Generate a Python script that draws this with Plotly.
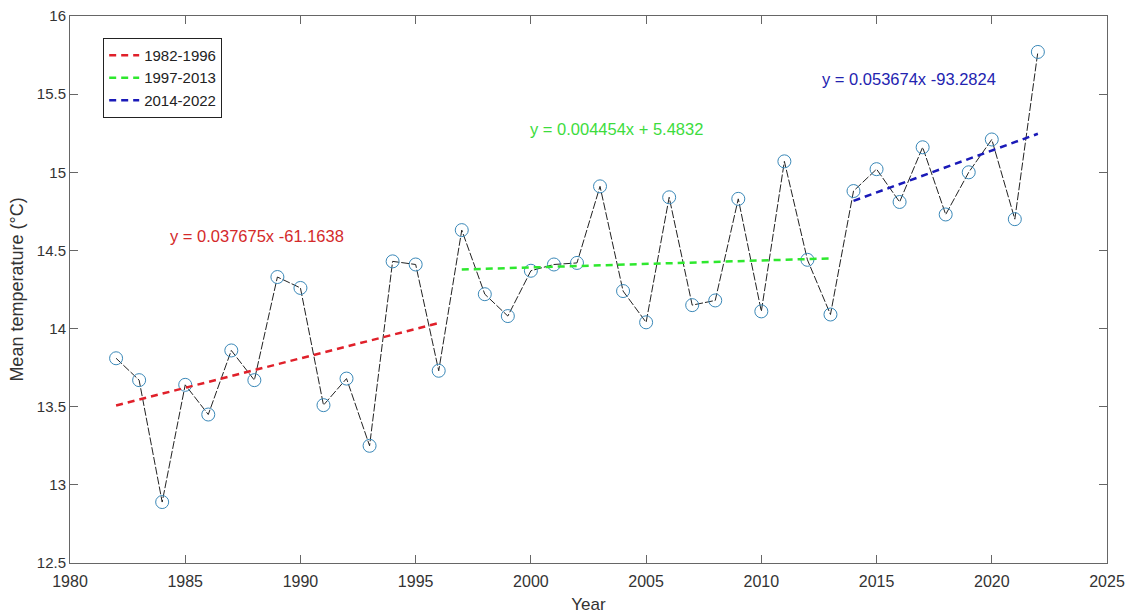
import plotly.graph_objects as go

years = list(range(1982, 2023))
temps = [13.81, 13.67, 12.89, 13.64, 13.45, 13.86, 13.67, 14.33, 14.26, 13.51,
         13.68, 13.25, 14.43, 14.41, 13.73, 14.63, 14.22, 14.08, 14.37, 14.41,
         14.42, 14.91, 14.24, 14.04, 14.84, 14.15, 14.18, 14.83, 14.11, 15.07,
         14.44, 14.09, 14.88, 15.02, 14.81, 15.16, 14.73, 15.00, 15.21, 14.70,
         15.77]

period_labels = ["1982-1996", "1997-2013", "2014-2022"]
period_start = [1982, 1997, 2014]
period_end = [1996, 2013, 2022]
slopes = [0.037675, 0.004454, 0.053674]
intercepts = [-61.1638, 5.4832, -93.2824]
eq_texts = ["y = 0.037675x -61.1638", "y = 0.004454x + 5.4832", "y = 0.053674x -93.2824"]
eq_x = [1988.1, 2003.7, 2016.4]
eq_y = [14.59, 15.28, 15.60]
line_colors = ["#e0202a", "#2ee82e", "#1a1ab8"]
text_colors = ["#d42a2a", "#3ddc3d", "#2323b0"]

FONT = "Liberation Sans, Arial"

fig = go.Figure()

fig.add_trace(go.Scatter(
    x=years, y=temps, mode="lines+markers", showlegend=False,
    line=dict(color="#222222", width=1, dash="8px,2px"),
    marker=dict(symbol="circle-open", size=13, color="#3a88b8", line=dict(width=1)),
))

for lab, s0, s1, m, b, c in zip(period_labels, period_start, period_end, slopes, intercepts, line_colors):
    xs = [s0, s1]
    ys = [m * s0 + b, m * s1 + b]
    fig.add_trace(go.Scatter(
        x=xs, y=ys, mode="lines", name=lab,
        line=dict(color=c, width=2.5, dash="7px,5px"),
    ))

for t, x, y, c in zip(eq_texts, eq_x, eq_y, text_colors):
    fig.add_annotation(x=x, y=y, text=t, showarrow=False,
                       font=dict(color=c, size=16.5, family=FONT))

axis_common = dict(
    showgrid=False, zeroline=False, showline=True, linecolor="#666666", linewidth=1,
    mirror="ticks", ticks="inside", ticklen=8, tickcolor="#666666", automargin=False,
)

fig.update_xaxes(range=[1980, 2025], dtick=5, tick0=1980,
                 tickfont=dict(size=16, color="#333333", family=FONT), ticklabelstandoff=4,
                 title=dict(text="Year", font=dict(size=17, color="#333333", family=FONT), standoff=10),
                 **axis_common)
fig.update_yaxes(range=[12.5, 16], dtick=0.5, tick0=12.5,
                 tickfont=dict(size=15, color="#333333", family=FONT),
                 title=dict(text="Mean temperature (°C)", font=dict(size=18, color="#333333", family=FONT), standoff=8),
                 **axis_common)

fig.update_layout(
    width=1131, height=614,
    margin=dict(l=70, r=24, t=16, b=51),
    plot_bgcolor="white", paper_bgcolor="white",
    font=dict(family=FONT, color="#222222"),
    legend=dict(x=0.032, y=0.96, xanchor="left", yanchor="top",
                bordercolor="#222222", borderwidth=1, bgcolor="white",
                font=dict(size=15, family=FONT), tracegroupgap=0, itemwidth=30),
)

fig.write_html("out.html", config={"displayModeBar": False},
               post_script="document.body.style.margin='0';document.body.style.overflow='hidden';")
